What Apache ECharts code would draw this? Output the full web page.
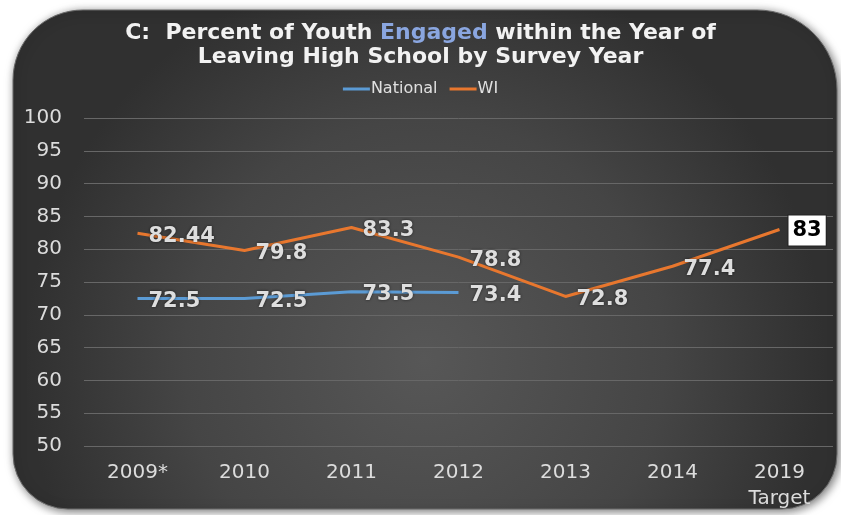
<!DOCTYPE html>
<html>
<head>
<meta charset="utf-8">
<script src="https://cdn.jsdelivr.net/npm/echarts@6/dist/echarts.min.js"></script>
<style>
  html, body { margin: 0; padding: 0; background: #fff; }
  #chart { width: 841px; height: 515px; }
</style>
</head>
<body>
<div id="chart"></div>
<script>
const years = ['2009*', '2010', '2011', '2012', '2013', '2014', '2019\nTarget']
const national = [72.5, 72.5, 73.5, 73.4, null, null, null]
const wi = [82.44, 79.8, 83.3, 78.8, 72.8, 77.4, 83]

const labelStyle = {
  show: true,
  position: 'right',
  distance: 11,
  offset: [0, 3],
  color: '#dedede',
  fontFamily: 'DejaVu Sans',
  fontWeight: 'bold',
  fontSize: 21,
  textShadowColor: 'rgba(0,0,0,0.6)',
  textShadowBlur: 3
}

// last WI point is the target, drawn boxed
const wiData = wi.map((v, i) => {
  if (i !== wi.length - 1) return v
  return {
    value: v,
    label: {
      backgroundColor: '#fff',
      borderColor: '#222',
      borderWidth: 1,
      color: '#000',
      textShadowBlur: 0,
      padding: [5, 4, 4, 4],
      distance: 9,
      offset: [0, 1]
    }
  }
})

const chart = echarts.init(document.getElementById('chart'))
chart.setOption({
  animation: false,
  graphic: [{
    type: 'rect',
    z: -10,
    shape: { x: 13, y: 10, width: 824, height: 499, r: [70, 80, 55, 55] },
    style: {
      fill: {
        type: 'radial', x: 0.5, y: 0.7, r: 0.8,
        colorStops: [
          { offset: 0, color: '#575757' },
          { offset: 0.6, color: '#454545' },
          { offset: 1, color: '#303030' }
        ]
      },
      stroke: '#6a6a6a',
      lineWidth: 1,
      shadowBlur: 10,
      shadowColor: 'rgba(0,0,0,0.55)',
      shadowOffsetX: 2,
      shadowOffsetY: 2
    }
  }],
  title: {
    text: '{w|C:  Percent of Youth }{b|Engaged}{w| within the Year of}\n{w|Leaving High School by Survey Year}',
    left: 'center',
    top: 16,
    textStyle: {
      rich: {
        w: { color: '#f2f2f2', fontFamily: 'DejaVu Sans', fontWeight: 'bold', fontSize: 22, lineHeight: 24 },
        b: { color: '#8aa6e0', fontFamily: 'DejaVu Sans', fontWeight: 'bold', fontSize: 22, lineHeight: 24 }
      }
    }
  },
  legend: {
    top: 76,
    left: 'center',
    icon: 'rect',
    itemWidth: 27,
    itemHeight: 3,
    itemGap: 12,
    textStyle: { color: '#e0e0e0', fontFamily: 'DejaVu Sans', fontSize: 16, padding: [0, 0, 0, -4] },
    data: ['National', 'WI']
  },
  grid: { left: 84, right: 8, top: 118, bottom: 69 },
  xAxis: {
    type: 'category',
    data: years,
    axisLine: { show: false },
    axisTick: { show: false },
    axisLabel: {
      color: '#dcdcdc',
      fontFamily: 'DejaVu Sans',
      fontSize: 20,
      margin: 14,
      lineHeight: 26
    }
  },
  yAxis: {
    type: 'value',
    min: 50,
    max: 100,
    interval: 5,
    axisLine: { show: false },
    axisTick: { show: false },
    axisLabel: {
      color: '#dcdcdc',
      fontFamily: 'DejaVu Sans',
      fontSize: 20,
      margin: 22
    },
    splitLine: { lineStyle: { color: '#676767', width: 1 } }
  },
  series: [
    {
      name: 'National',
      type: 'line',
      data: national,
      symbol: 'circle',
      symbolSize: 0,
      lineStyle: { color: '#5b9bd5', width: 3 },
      itemStyle: { color: '#5b9bd5' },
      label: labelStyle
    },
    {
      name: 'WI',
      type: 'line',
      data: wiData,
      symbol: 'circle',
      symbolSize: 0,
      lineStyle: { color: '#e8772e', width: 3 },
      itemStyle: { color: '#e8772e' },
      label: labelStyle
    }
  ]
})
</script>
</body>
</html>
